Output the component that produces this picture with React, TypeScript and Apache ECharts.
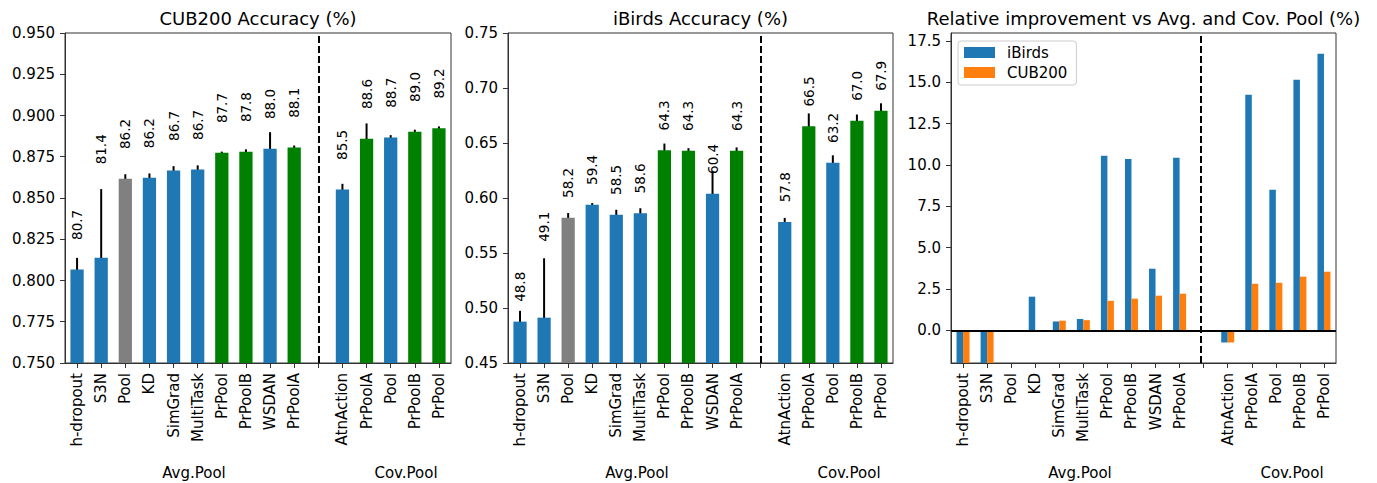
import React, { useEffect, useRef } from "react";
import * as echarts from "echarts";

const avgNames = ["h-dropout", "S3N", "Pool", "KD", "SimGrad", "MultiTask", "PrPool", "PrPoolB", "WSDAN", "PrPoolA"];
const covNames = ["AtnAction", "PrPoolA", "Pool", "PrPoolB", "PrPool"];
// method kind: base = prior methods, ref = Avg. Pool reference, ours = proposed
const avgKinds = ["base", "base", "ref", "base", "base", "base", "ours", "ours", "base", "ours"];
const covKinds = ["base", "ours", "base", "ours", "ours"];

const cubAvgMean = [0.8066, 0.8138, 0.8617, 0.8622, 0.8666, 0.8672, 0.8774, 0.878, 0.8799, 0.8806];
const cubAvgErr = [0.0071, 0.0416, 0.0027, 0.0027, 0.0027, 0.0026, 0.0007, 0.0015, 0.01, 0.0012];
const cubCovMean = [0.8551, 0.8859, 0.8867, 0.8902, 0.8923];
const cubCovErr = [0.0035, 0.0093, 0.0014, 0.0012, 0.0011];

const birdsAvgMean = [0.4876, 0.4912, 0.5821, 0.5939, 0.5848, 0.5862, 0.6434, 0.643, 0.6039, 0.643];
const birdsAvgErr = [0.0098, 0.054, 0.0042, 0.0015, 0.0045, 0.0045, 0.0061, 0.0023, 0.0208, 0.003];
const birdsCovMean = [0.5781, 0.6652, 0.6321, 0.6703, 0.6794];
const birdsCovErr = [0.0038, 0.0117, 0.0067, 0.0056, 0.0067];

const relBirdsAvg = [-16.2, -15.6, 0, 2.04, 0.54, 0.69, 10.56, 10.36, 3.73, 10.44];
const relBirdsCov = [-0.73, 14.25, 8.51, 15.16, 16.73];
const relCubAvg = [-6.4, -5.6, 0, 0, 0.59, 0.62, 1.79, 1.92, 2.1, 2.22];
const relCubCov = [-0.73, 2.82, 2.88, 3.25, 3.55];

const relTicks = [0, 2.5, 5, 7.5, 10, 12.5, 15, 17.5];

const FONT = "DejaVu Sans";
const AX = "#333";
const TICK_FS = 15;
const kindColor: Record<string, string> = { base: "#1f77b4", ref: "#808080", ours: "#008000" };

const categories = [...avgNames, "", ...covNames];
const kinds = [...avgKinds, "", ...covKinds];
const join = (a: number[], b: number[]) => [...a, null, ...b];

const GRIDS = [
  { left: 65, top: 33, width: 386, height: 330 },
  { left: 508, top: 33, width: 385, height: 330 },
  { left: 951, top: 33, width: 385, height: 330 },
];

function xAxis(idx: number) {
  return {
    type: "category",
    gridIndex: idx,
    data: categories,
    boundaryGap: true,
    axisLine: { show: true, onZero: false, lineStyle: { color: AX, width: 1 } },
    axisTick: { show: true, alignWithLabel: true, interval: 0, length: 5, lineStyle: { color: AX } },
    axisLabel: { interval: 0, rotate: 90, margin: 10, color: "#000", fontSize: TICK_FS, fontFamily: FONT },
    splitLine: { show: false },
  };
}

function yAxisBase(idx: number) {
  return {
    type: "value",
    gridIndex: idx,
    axisLine: { show: true, lineStyle: { color: AX, width: 1 } },
    axisTick: { show: true, length: 5, lineStyle: { color: AX } },
    splitLine: { show: false },
  };
}

function accSeries(idx: number, means: (number | null)[], errs: (number | null)[]) {
  const barData = means.map((v, i) =>
    v == null ? null : { value: v, itemStyle: { color: kindColor[kinds[i]] } }
  );
  const errData: any[] = [];
  means.forEach((v, i) => {
    if (v != null) errData.push([i, v, errs[i] as number]);
  });
  return [
    {
      type: "bar",
      xAxisIndex: idx,
      yAxisIndex: idx,
      data: barData,
      barWidth: "55%",
      silent: true,
      markLine: {
        silent: true,
        symbol: "none",
        label: { show: false },
        lineStyle: { color: "#000", width: 2, type: [7, 3] },
        data: [{ xAxis: 10 }],
      },
    },
    {
      type: "custom",
      xAxisIndex: idx,
      yAxisIndex: idx,
      data: errData,
      encode: { x: 0, y: 1 },
      silent: true,
      renderItem: (params: any, api: any) => {
        const i = api.value(0);
        const m = api.value(1);
        const e = api.value(2);
        const p1 = api.coord([i, m - e]);
        const p2 = api.coord([i, m + e]);
        const cs = params.coordSys;
        const clamp = (y: number) => Math.max(cs.y, Math.min(cs.y + cs.height, y));
        return {
          type: "line",
          shape: { x1: p1[0], y1: clamp(p1[1]), x2: p2[0], y2: clamp(p2[1]) },
          style: { stroke: "#000", lineWidth: 2 },
        };
      },
    },
    {
      type: "custom",
      xAxisIndex: idx,
      yAxisIndex: idx,
      data: errData,
      encode: { x: 0, y: 1 },
      silent: true,
      renderItem: (params: any, api: any) => {
        const i = api.value(0);
        const m = api.value(1);
        const e = api.value(2);
        const anchor = e > 0.0235 ? m + e + 0.015 : m + 0.018;
        const p = api.coord([i, anchor]);
        return {
          type: "text",
          x: p[0],
          y: p[1],
          rotation: Math.PI / 2,
          style: {
            text: (m * 100).toFixed(1),
            align: "left",
            verticalAlign: "middle",
            fontSize: 13.5,
            fontFamily: FONT,
            fill: "#000",
          },
        };
      },
    },
  ];
}

export default function App() {
  const ref = useRef<HTMLDivElement>(null);
  useEffect(() => {
    if (!ref.current) return;
    const chart = echarts.init(ref.current, null, { renderer: "svg" });
    const titles = ["CUB200 Accuracy (%)", "iBirds Accuracy (%)", "Relative improvement vs Avg. and Cov. Pool (%)"];
    const graphics: any[] = [];
    GRIDS.forEach((g, k) => {
      graphics.push({
        type: "text",
        x: g.left + g.width / 2,
        y: 18,
        style: { text: titles[k], align: "center", verticalAlign: "middle", fontSize: 18, fontFamily: FONT, fill: "#000" },
      });
      graphics.push({
        type: "text",
        x: g.left + 129,
        y: 473,
        style: { text: "Avg.Pool", align: "center", verticalAlign: "middle", fontSize: TICK_FS, fontFamily: FONT, fill: "#000" },
      });
      graphics.push({
        type: "text",
        x: g.left + 341,
        y: 473,
        style: { text: "Cov.Pool", align: "center", verticalAlign: "middle", fontSize: TICK_FS, fontFamily: FONT, fill: "#000" },
      });
    });

    const option: any = {
      animation: false,
      backgroundColor: "#fff",
      textStyle: { fontFamily: FONT },
      grid: GRIDS.map((g) => ({
        ...g,
        show: true,
        borderColor: AX,
        borderWidth: 1,
        backgroundColor: "transparent",
        containLabel: false,
        outerBoundsMode: "none",
      })),
      xAxis: [xAxis(0), xAxis(1), xAxis(2)],
      yAxis: [
        {
          ...yAxisBase(0),
          min: 0.75,
          max: 0.95,
          interval: 0.025,
          axisLabel: { margin: 10, color: "#000", fontSize: TICK_FS, fontFamily: FONT, formatter: (v: number) => v.toFixed(3) },
        },
        {
          ...yAxisBase(1),
          min: 0.45,
          max: 0.75,
          interval: 0.05,
          axisLabel: { margin: 10, color: "#000", fontSize: TICK_FS, fontFamily: FONT, formatter: (v: number) => v.toFixed(2) },
        },
        {
          ...yAxisBase(2),
          min: -1.97,
          max: 17.98,
          axisTick: { show: true, length: 5, lineStyle: { color: AX }, customValues: relTicks },
          axisLabel: {
            margin: 10,
            color: "#000",
            fontSize: TICK_FS,
            fontFamily: FONT,
            customValues: relTicks,
            formatter: (v: number) => v.toFixed(1),
          },
        },
      ],
      legend: {
        show: true,
        orient: "vertical",
        left: 958,
        top: 41,
        data: ["iBirds", "CUB200"],
        icon: "rect",
        itemWidth: 31,
        itemHeight: 11,
        itemGap: 5,
        padding: [4, 9, 5, 6],
        borderColor: "#ccc",
        borderWidth: 1,
        borderRadius: 3,
        backgroundColor: "rgba(255,255,255,0.8)",
        selectedMode: false,
        textStyle: { color: "#000", fontSize: TICK_FS, fontFamily: FONT, padding: [0, 0, 0, 7] },
      },
      graphic: graphics,
      series: [
        ...accSeries(0, join(cubAvgMean, cubCovMean), join(cubAvgErr, cubCovErr)),
        ...accSeries(1, join(birdsAvgMean, birdsCovMean), join(birdsAvgErr, birdsCovErr)),
        {
          name: "iBirds",
          type: "bar",
          xAxisIndex: 2,
          yAxisIndex: 2,
          data: join(relBirdsAvg, relBirdsCov),
          itemStyle: { color: "#1f77b4" },
          barWidth: "27%",
          barGap: "0%",
          silent: true,
          markLine: {
            silent: true,
            symbol: "none",
            label: { show: false },
            lineStyle: { color: "#000", width: 2, type: [7, 3] },
            data: [{ xAxis: 10 }],
          },
        },
        {
          name: "CUB200",
          type: "bar",
          xAxisIndex: 2,
          yAxisIndex: 2,
          data: join(relCubAvg, relCubCov),
          itemStyle: { color: "#ff7f0e" },
          barWidth: "27%",
          barGap: "0%",
          silent: true,
          markLine: {
            silent: true,
            symbol: "none",
            label: { show: false },
            lineStyle: { color: "#000", width: 2, type: "solid" },
            data: [{ yAxis: 0 }],
          },
        },
      ],
    };
    chart.setOption(option);
    return () => chart.dispose();
  }, []);
  return <div ref={ref} style={{ position: "absolute", left: 0, top: 0, width: 1377, height: 483 }} />;
}
